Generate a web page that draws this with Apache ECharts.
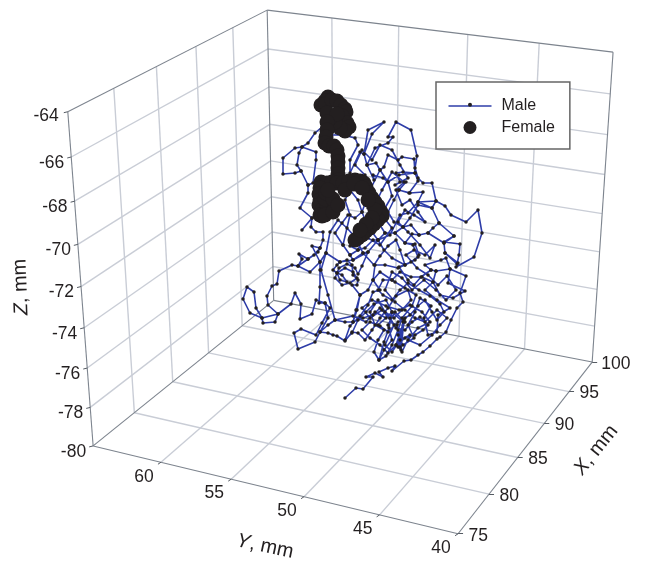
<!DOCTYPE html>
<html><head><meta charset="utf-8">
<style>html,body{margin:0;padding:0;background:#fff}#c{width:646px;height:561px}</style>
<script src="https://cdn.jsdelivr.net/npm/echarts@6/dist/echarts.min.js"></script>
</head><body><div id="c"></div>
<script>
// Tick labels of the three box axes (mm)
const xTicks = [75, 80, 85, 90, 95, 100];
const yTicks = [40, 45, 50, 55, 60];
const zTicks = [-64, -66, -68, -70, -72, -74, -76, -78, -80];
const seriesNames = ['Male', 'Female'];

// The picture is a single 3D view, so depth cannot be recovered: the traces are
// read as horizontal / vertical values in the view plane of the picture.
const maleView = [
[345,398],[356,388],[363,389],[373,377],[366,377],[375,373],[383,377],[379,372],[388,368],[395,366],[392,371],[404,361],[411,360],[418,355],[423,352],[430,346],[437,339],[440,337],[446,332],[451,320],[457,308],[463,302],
[460,293],[466,276],[450,269],[448,283],[465,291],[453,298],[440,295],[433,282],[425,290],[437,300],[450,308],[438,315],[437,332],[428,335],[424,318],[431,306],[420,298],[415,312],[408,325],[414,338],[403,345],[398,335],[405,322],[395,312],[388,325],[392,340],[384,350],[379,360],[374,352],[378,340],[384,330],[375,325],[370,312],[378,300],[385,312],[394,318],[402,310],[411,300],[408,290],[396,296],[388,308],[380,318],[372,330],[365,340],[358,333],[352,332],[345,341],[337,336],[333,335],[328,333],[320,332],
[328,325],[335,320],[345,322],[353,322],[356,310],[360,295],[357,310],[353,322],[363,318],[373,315],[380,308],[390,318],[396,328],[405,330],[412,322],[420,317],[428,325],[423,330],[415,335],[405,338],[396,345],[388,353],[380,345],[370,338],[362,330],[370,322],[380,326],[388,332],[398,322],[410,315],[418,306],[425,300],[432,312],[437,320],[444,312],[440,304],[430,296],[419,290],[408,283],[400,290],[392,300],[383,295],[378,290],[383,280],[392,280],[395,282],[405,288],[416,295],[412,306],[402,318],[398,330],[392,345],[386,356],[379,360],
[384,342],[389,328],[392,312],[386,300],[374,304],[366,312],[358,320],[352,333],[345,340],[350,326],[360,316],[368,305],[373,292],[380,290],
[373,280],[368,290],[360,295],[352,285],[357,285],[358,280],[353,275],[352,265],[347,260],[340,262],[337,265],[333,270],[337,273],[342,275],[347,282],[340,280],[337,273],[345,268],[353,272],[357,278],[350,283],[342,285],[335,278],[339,268],[347,264],[355,268],[358,274],[362,266],[368,252],[363,253],[353,260],[350,255],[343,245],[335,233],[342,223],[348,215],[355,218],[362,212],[366,222],[360,230],[355,237],[350,246],[358,250],[365,248],[373,240],[378,240],[385,233],[395,233],[405,243],[415,244],[419,255],[415,260],[405,265],[398,268],[385,265],[375,265],[373,280],[380,272],[392,280],[400,272],[411,277],[422,277],[433,282],[436,271],[431,270],[425,265],[441,260],[446,258],[450,269],[436,271],[431,270],[421,277],[414,285],[408,280],[399,267],
[411,262],[418,257],[413,245],[405,243],[412,234],[419,235],[428,233],[433,228],[439,223],[454,236],[444,242],[460,244],[459,255],[457,264],[445,253],[444,243],[428,233],[419,235],[411,225],[403,227],[410,218],[418,205],[432,208],[436,201],[418,202],[408,213],[400,215],[390,235],[378,240],[368,252],
[353,260],[340,262],[326,253],[320,262],[320,270],[320,287],[319,303],[325,303],[330,308],[322,323],[316,335],[301,329],[294,333],[298,349],[315,342],[320,332],[328,318],[325,303],[316,300],[312,314],[300,319],[301,304],[295,293],[291,304],[278,314],[275,322],[263,323],[262,318],[250,313],[243,299],[247,287],[254,292],[256,308],[262,318],[278,314],[268,305],[267,296],[272,286],[277,284],[279,271],[292,265],[298,266],[310,272],[320,262],[312,246],[320,248],[314,255],[308,259],[298,266],[302,259],[299,254],[308,259],[318,252],[320,248],[323,240],[323,232],[316,232],[311,227],[312,218],[302,230],[312,218],[300,208],[308,193],[308,185],[301,171],[295,173],[283,174],[283,158],[295,148],[302,147],[299,153],[297,165],[301,171],[308,185],[313,183],[316,160],[316,152],[302,147],[308,143],[315,133],[322,127],[330,135],[343,135],[355,138],[358,145],[350,160],[350,173],[360,152],[364,154],[368,130],[384,122],[372,134],[364,154],[367,165],[375,148],[388,143],[393,137],[388,137],[396,122],[411,130],[417,156],[415,168],[418,178],[423,183],[432,183],[436,201],[445,206],[451,215],[466,222],[478,210],[482,233],[474,257],[456,267],
[458,263],[445,253],[444,243],[454,236],[439,223],[432,208],[418,202],[423,192],[410,193],[399,190],[406,182],[400,182],[396,173],[403,172],[415,173],[414,159],[402,157],[398,160],[388,155],[384,167],[380,170],[376,163],[367,165],[374,180],[373,175],[383,178],[388,182],[399,175],[415,173],[418,181],[409,193],[399,190],[394,200],[388,212],[394,222],[403,227],[395,233],[385,233],[378,222],[385,208],[392,196],[388,182],[380,170],
[370,190],[362,212],[358,200],[350,190],[345,200],[350,215],[343,245],[350,255],[358,250],[363,238],[372,232],[378,240],[384,250],[392,258],[405,265],
[400,250],[396,240],[388,246],[380,256],[374,265],[363,253],[355,237],[347,228],[338,220],[330,232],[326,253],[321,270],
[328,295],[335,320],[353,316],[366,322],[375,312],[386,318],[378,325],[392,312],[403,322],[398,347],[405,318],[396,345],[401,350],[404,320],[400,347],[397,325],[402,352],[410,335],[400,340],[392,352],[385,345],[394,325],[382,310],[370,318],[362,308],[372,300],[386,306],[399,310],[410,305],[422,312],[430,322],[418,328],[408,340],[420,345],[432,335],[440,325],[447,318],[437,310],[425,322],[415,318],[405,310],[395,302],[385,290],[392,272],[402,278],[412,290],[424,280],[436,290],[446,300],[456,290],[447,276],[438,285],[428,275],[417,268],[406,255],[414,250],[425,255],[435,245],[430,258],[420,245],[408,232],[398,222],[405,210],[414,215],[425,222],[418,212],[410,200],[402,205],[396,190],[404,182],[392,172],[382,190],[375,205],[384,218],[392,228],[380,245],[368,238],[375,222],[368,208],[376,195],[365,175],[355,165],[362,150],[372,160],[380,145],[392,150],[400,165],[408,178],[395,185]
];

const femaleView = [
[328,97],[325,101],[321,105],[326,104],[332,100],[337,101],[341,105],[345,109],[346,112],[342,116],[347,123],[349,127],[345,131],[340,128],[335,122],[330,118],[327,113],[337,114],[327,122],[327,130],[326,137],[325,143],[329,146],[334,146],[337,150],[338,156],[338,162],[338,168],[338,174],[338,180],
[321,182],[327,183],[332,182],[337,183],[343,183],[349,181],[355,180],[360,181],[364,183],[366,187],[369,193],[372,198],[375,202],[378,206],[381,212],[382,216],[378,220],[374,224],[370,228],[366,231],[362,235],[358,238],[355,240],
[320,188],[319,194],[320,200],[319,205],[322,210],[326,212],[331,210],[327,205],[325,199],[326,193],[335,205],[333,199],[320,215],[322,216],[325,215],[345,190],[328,190],[333,212],[338,205],[375,210],[372,218],[366,224],[360,230],[354,184],[362,188],[368,200]
];

// Pixel anchor of the box corners, for fractions along X, Y and Z
const corners = [
  [0,0,0,458,534],[1,0,0,592.3,361.7],[0,1,0,93.3,445.7],[1,1,0,273.5,300.7],
  [0,1,1,67.7,111.7],[1,1,1,267.3,10],[1,0,1,613,52.3]
];
const XMIN=75,XMAX=100,YMIN=40,YMAX=65,ZMIN=-80,ZMAX=-64;

// Fit a projective camera to the box corners (least squares)
function fit(){
  const A=[],b=[];
  corners.forEach(([u,v,w,x,y])=>{
    x/=100;y/=100;
    A.push([u,v,w,1,0,0,0,0,-x*u,-x*v,-x*w]);b.push(x);
    A.push([0,0,0,0,u,v,w,1,-y*u,-y*v,-y*w]);b.push(y);
  });
  const n=11,M=[];
  for(let i=0;i<n;i++){M.push(new Array(n+1).fill(0));
    for(let j=0;j<n;j++)for(let r=0;r<A.length;r++)M[i][j]+=A[r][i]*A[r][j];
    for(let r=0;r<A.length;r++)M[i][n]+=A[r][i]*b[r];
    M[i][i]+=1e-9;
  }
  for(let i=0;i<n;i++){
    let p=i;for(let r=i+1;r<n;r++)if(Math.abs(M[r][i])>Math.abs(M[p][i]))p=r;
    [M[i],M[p]]=[M[p],M[i]];
    for(let r=0;r<n;r++){if(r===i)continue;const f=M[r][i]/M[i][i];
      for(let c=i;c<=n;c++)M[r][c]-=f*M[i][c];}
  }
  return M.map((row,i)=>row[n]/row[i]);
}
const P=fit();
function proj(X,Y,Z){
  const u=(X-XMIN)/(XMAX-XMIN),v=(Y-YMIN)/(YMAX-YMIN),w=(Z-ZMIN)/(ZMAX-ZMIN);
  const d=P[8]*u+P[9]*v+P[10]*w+1;
  return [100*(P[0]*u+P[1]*v+P[2]*w+P[3])/d,100*(P[4]*u+P[5]*v+P[6]*w+P[7])/d];
}
const seg=(a,b)=>({coords:[proj(...a),proj(...b)]});
const gridSegs=[],edgeSegs=[],tickSegs=[];
const xInner=xTicks.slice(1,-1),yInner=yTicks.slice(1),zInner=zTicks.slice(1,-1);
xInner.forEach(x=>{
  gridSegs.push(seg([x,YMIN,ZMIN],[x,YMAX,ZMIN]));
  gridSegs.push(seg([x,YMAX,ZMIN],[x,YMAX,ZMAX]));
});
yInner.forEach(y=>{
  gridSegs.push(seg([XMIN,y,ZMIN],[XMAX,y,ZMIN]));
  gridSegs.push(seg([XMAX,y,ZMIN],[XMAX,y,ZMAX]));
});
zInner.forEach(z=>{
  gridSegs.push(seg([XMIN,YMAX,z],[XMAX,YMAX,z]));
  gridSegs.push(seg([XMAX,YMAX,z],[XMAX,YMIN,z]));
});
[
 [[XMIN,YMAX,ZMAX],[XMAX,YMAX,ZMAX]],[[XMAX,YMAX,ZMAX],[XMAX,YMIN,ZMAX]],[[XMAX,YMIN,ZMAX],[XMAX,YMIN,ZMIN]],
 [[XMIN,YMAX,ZMAX],[XMIN,YMAX,ZMIN]],[[XMIN,YMAX,ZMIN],[XMIN,YMIN,ZMIN]],[[XMIN,YMIN,ZMIN],[XMAX,YMIN,ZMIN]],
 [[XMAX,YMAX,ZMAX],[XMAX,YMAX,ZMIN]],[[XMIN,YMAX,ZMIN],[XMAX,YMAX,ZMIN]],[[XMAX,YMAX,ZMIN],[XMAX,YMIN,ZMIN]]
].forEach(e=>edgeSegs.push(seg(e[0],e[1])));

const labels=[];
const addLab=(p,dx,dy,text,align)=>labels.push({value:[p[0]+dx,p[1]+dy],text,align});
const tick=(p,dx,dy)=>tickSegs.push({coords:[p,[p[0]+dx,p[1]+dy]]});
zTicks.forEach(z=>{const p=proj(XMIN,YMAX,z);tick(p,-4,1);addLab(p,z===-64?-9:-7,z===-64?4:6,String(z),'right');});
yTicks.forEach(y=>{const p=proj(XMIN,y,ZMIN);tick(p,-3,2);addLab(p,-17,14.5,String(y),'center');});
xTicks.forEach(x=>{const p=proj(x,YMIN,ZMIN);tick(p,5,0);addLab(p,x===100?9:10.5,2,String(x),'left');});

const FONT='"Liberation Sans",Arial,sans-serif',INK='#231f20',BLUE='#2e3da8';
const rich={i:{fontFamily:FONT,fontStyle:'italic',fontSize:20,color:INK},r:{fontFamily:FONT,fontSize:20,color:INK}};
const title=(x,y,rot,letter)=>({value:[x,y],label:{rotate:rot,formatter:'{i|'+letter+'}{r|, mm}',rich}});

const chart=echarts.init(document.getElementById('c'),null,{renderer:'canvas'});
chart.setOption({
  animation:false,backgroundColor:'#fff',
  grid:{left:0,right:0,top:0,bottom:0},
  xAxis:{type:'value',min:0,max:646,show:false},
  yAxis:{type:'value',min:0,max:561,inverse:true,show:false},
  legend:{
    data:[{name:'Male',icon:'path://M0 4.3H43V5.7H0Z',itemStyle:{color:BLUE}},{name:'Female',icon:'circle'}],
    orient:'vertical',left:436,top:82,itemWidth:43,itemHeight:13,itemGap:5.5,
    padding:[16,15,13.5,12.5],backgroundColor:'#fff',borderColor:'#666',borderWidth:1.5,borderRadius:0,
    selectedMode:false,z:10,
    textStyle:{fontFamily:FONT,fontSize:16,color:INK,padding:[0,0,0,5],lineHeight:13}
  },
  graphic:[{type:'circle',shape:{cx:470,cy:104.7,r:2},style:{fill:INK},z:100,silent:true}],
  series:[
    {type:'lines',coordinateSystem:'cartesian2d',z:1,silent:true,data:gridSegs,lineStyle:{color:'#c9cdd6',width:1.4,opacity:1}},
    {type:'lines',coordinateSystem:'cartesian2d',z:2,silent:true,data:edgeSegs,lineStyle:{color:'#7d848e',width:1.1,opacity:1}},
    {type:'lines',coordinateSystem:'cartesian2d',z:2,silent:true,data:tickSegs,lineStyle:{color:'#555b63',width:1,opacity:1}},
    {name:'Male',type:'line',z:3,data:maleView,silent:true,symbol:'circle',symbolSize:3.5,showSymbol:true,showAllSymbol:true,
      lineStyle:{color:BLUE,width:1.6},itemStyle:{color:INK,borderWidth:0}},
    {name:'Female',type:'scatter',z:4,data:femaleView,silent:true,symbol:'circle',symbolSize:15,itemStyle:{color:INK,opacity:1}},
    {type:'scatter',z:5,silent:true,symbolSize:0,itemStyle:{opacity:1},data:labels.map(l=>({value:l.value,label:{align:l.align,formatter:l.text}})),
      label:{show:true,position:[0,0],verticalAlign:'middle',fontFamily:FONT,fontSize:17.5,color:INK,opacity:1}},
    {type:'scatter',z:5,silent:true,symbolSize:0,itemStyle:{opacity:1},
      data:[title(21,287,92,'Z'),title(265,546.5,-12,'Y'),title(596,450,51,'X')],
      label:{show:true,position:[0,0],align:'center',verticalAlign:'middle',opacity:1}}
  ]
});
</script></body></html>
